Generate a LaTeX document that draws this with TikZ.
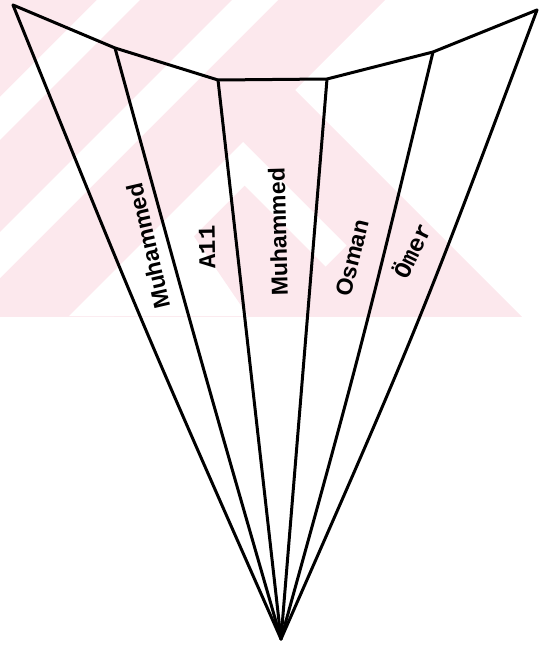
\documentclass[tikz,border=0pt]{standalone}
\usepackage{fontspec}
\setmainfont{Liberation Sans}
\newfontfamily\typefont{Liberation Mono}
\begin{document}
\begin{tikzpicture}[x=1pt,y=-1pt,
  fan/.style={line width=3pt, line join=round, line cap=round},
  sanslabel/.style={font=\bfseries\fontsize{23}{23}\selectfont, inner sep=0pt},
  typelabel/.style={font=\typefont\bfseries\fontsize{24}{24}\selectfont, inner sep=0pt}]
\definecolor{wmpink}{RGB}{252,232,237}
\useasboundingbox (0,0) rectangle (541,647);

% pale striped background band
\begin{scope}
  \clip (0,0) rectangle (541,316);
  \fill[wmpink] (0,0) -- (385,0) -- (295,90) -- (541,336) -- (0,336) -- cycle;
  \fill[white] (97,0) -- (140,0) -- (0,140) -- (0,97) -- cycle;
  \fill[white] (232,0) -- (278,0) -- (0,278) -- (0,232) -- cycle;
  \fill[white] (69,316) -- (243,142) -- (346.5,245.5) -- (325.5,266.5)
               -- (244.5,185.5) -- (114,316) -- cycle;
  \fill[white] (180,216) -- (248,316) -- (80,316) -- cycle;
\end{scope}

% corners of the top edge and the common apex
\coordinate (t1) at (13,5);
\coordinate (t2) at (115,48);
\coordinate (t3) at (218,80);
\coordinate (t4) at (327,79);
\coordinate (t5) at (433,52);
\coordinate (t6) at (537,10);
\coordinate (apex) at (281,639);

% top edge
\draw[fan] (t1) -- (t2) -- (t3) -- (t4) -- (t5) -- (t6);

% rays down to the apex
\draw[fan] (t1) .. controls (141,322) .. (apex);
\draw[fan] (t2) .. controls (196,344) .. (apex);
\draw[fan] (t3) -- (apex);
\draw[fan] (t4) -- (apex);
\draw[fan] (t5) .. controls (362,346) .. (apex);
\draw[fan] (t6) .. controls (419,325) .. (apex);

% names in the strips
\node[sanslabel, rotate=103] (n1) at (148,246) {Muhammed};
\node[typelabel, rotate=91]  (n2) at (207,247) {A11};
\node[sanslabel, rotate=91.5] (n3) at (278,232) {Muhammed};
\node[sanslabel, rotate=76]  (n4) at (352,258) {Osman};
\node[typelabel, rotate=64]  (n5) at (411,250) {Ömer};
\end{tikzpicture}
\end{document}
